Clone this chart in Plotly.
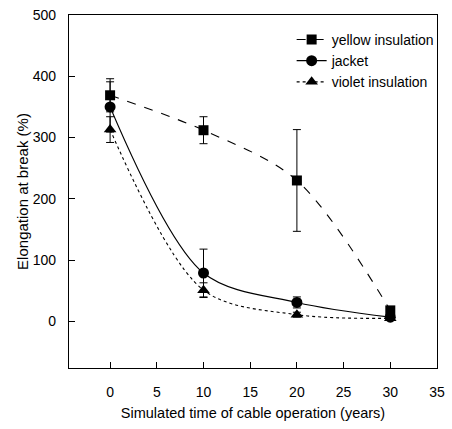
import plotly.graph_objects as go

years = [0, 10, 20, 30]
yellow = [369, 312, 230, 18]
yellow_err = [27, 22, 83, 5]
jacket = [350, 79, 31, 7]
jacket_err = [41, 39, 9, 3]
violet = [313, 51, 11, 5]
violet_err = [21, 12, 4, 3]

font = "Liberation Sans, Arial, sans-serif"
fig = go.Figure()

def add(name, y, err, dash, symbol, size):
    fig.add_trace(go.Scatter(
        x=years, y=y, name=name, mode="lines+markers",
        line=dict(color="black", width=1.1, dash=dash, shape="spline", smoothing=0.9),
        marker=dict(symbol=symbol, size=size, color="black"),
        error_y=dict(type="data", array=err, visible=True, color="black", thickness=1, width=4),
    ))

add("yellow insulation", yellow, yellow_err, "dash", "square", 10)
add("jacket", jacket, jacket_err, "solid", "circle", 11)
add("violet insulation", violet, violet_err, "dot", "triangle-up", 11)

axis_common = dict(showline=True, linecolor="black", linewidth=1.2, mirror=True,
                   ticks="inside", ticklen=6, tickcolor="black", showgrid=False,
                   zeroline=False, tickfont=dict(family=font, size=14, color="black"))

fig.update_xaxes(range=[-4.4, 35], tickvals=[0, 5, 10, 15, 20, 25, 30, 35],
                 ticklabelstandoff=11,
                 title=dict(text="Simulated time of cable operation (years)",
                            font=dict(family=font, size=14.5, color="black"), standoff=8),
                 **axis_common)
fig.update_yaxes(range=[-76, 500], tickvals=[0, 100, 200, 300, 400, 500],
                 ticklabelstandoff=9,
                 title=dict(text="Elongation at break (%)",
                            font=dict(family=font, size=15, color="black"), standoff=0),
                 **axis_common)

fig.update_layout(
    width=452, height=429,
    margin=dict(l=69, r=7, t=12, b=61),
    plot_bgcolor="white", paper_bgcolor="white",
    font=dict(family=font, color="black"),
    legend=dict(x=0.605, y=0.975, xanchor="left", yanchor="top",
                font=dict(family=font, size=14, color="black"),
                bgcolor="rgba(0,0,0,0)"),
)

fig.write_html("out.html")
